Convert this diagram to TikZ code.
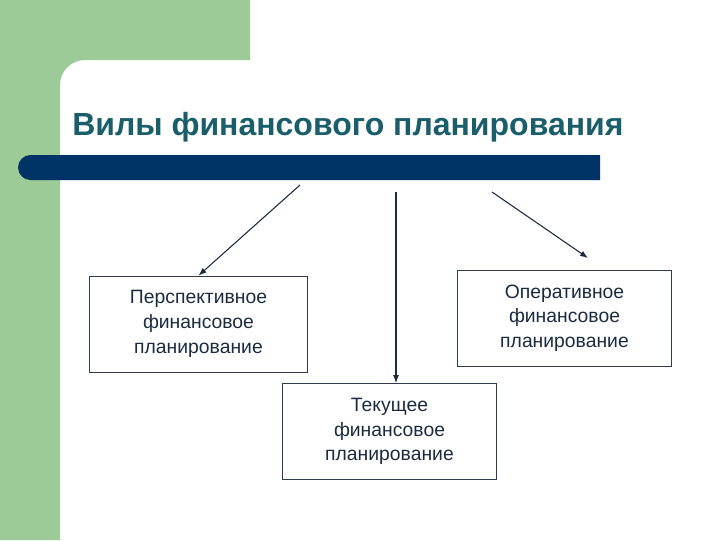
\documentclass[tikz,border=0pt]{standalone}
\usepackage{fontspec}
\setmainfont{Liberation Sans}
\usetikzlibrary{arrows.meta}
\definecolor{slidegreen}{HTML}{9CCB98}
\definecolor{barblue}{HTML}{003366}
\definecolor{titleteal}{HTML}{1B5E6B}
\definecolor{inkblue}{HTML}{1C2B40}
\tikzset{
    planbox/.style={draw=inkblue!80!gray, line width=0.6pt, fill=white, align=center,
        inner sep=0pt, text=inkblue, font=\fontsize{14.5}{18.5}\selectfont},
    planarrow/.style={-{Latex[length=6pt,width=4.5pt]}, draw=inkblue, line width=0.8pt}
}

\begin{document}
\begin{tikzpicture}[x=0.75pt, y=-0.75pt]
    % slide frame
    \useasboundingbox (0,0) rectangle (720,540);
    \fill[white] (0,0) rectangle (720,540);
    \fill[slidegreen] (0,0) -- (250,0) -- (250,60) -- (85,60)
        arc[start angle=270, end angle=180, radius=25] -- (60,540) -- (0,540) -- cycle;
    % title and bar
    \node[anchor=base west, text=titleteal, font=\fontsize{24}{28}\selectfont\bfseries,
        inner sep=0pt] (title) at (72,135) {Вилы финансового планирования};
    \fill[barblue] (600,155) -- (30.5,155) arc[start angle=270, end angle=90, radius=12.5]
        -- (600,180) -- cycle;
        % boxes
        \node[planbox, minimum width=163pt, minimum height=72pt] (persp) at (198.5,324)
            {Перспективное\\финансовое\\планирование};
        \node[planbox, minimum width=161pt, minimum height=72pt] (tek) at (389.5,431.5)
            {Текущее\\финансовое\\планирование};
        \node[planbox, minimum width=161pt, minimum height=72pt] (oper) at (564.5,318)
            {Оперативное\\финансовое\\планирование};
    % arrow ends
    \coordinate (lstart) at (300,185);
    \coordinate (mstart) at (396,192);
    \coordinate (rstart) at (492,192);
    \coordinate (rend) at (588,258);

    \draw[planarrow] (lstart) -- (persp.north);
    \draw[planarrow] (mstart) -- (mstart |- tek.north);
    \draw[planarrow] (rstart) -- (rend);
\end{tikzpicture}
\end{document}
